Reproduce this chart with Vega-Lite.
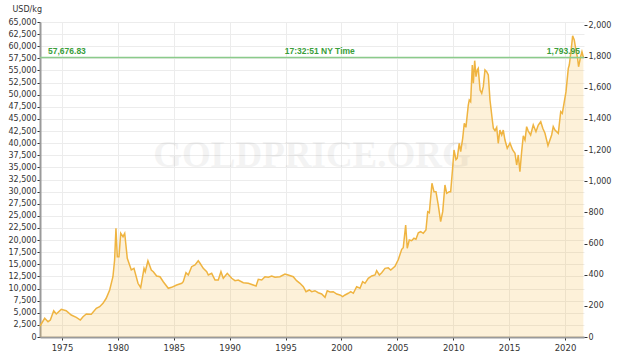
{
  "$schema": "https://vega.github.io/schema/vega-lite/v6.json",
  "width": 544,
  "height": 315,
  "autosize": {"type": "none"},
  "padding": {"left": 40, "top": 22, "right": 40, "bottom": 25},
  "background": "white",
  "config": {
    "view": {"stroke": null},
    "axis": {"labelFont": "DejaVu Sans", "labelFontSize": 8, "labelColor": "#333333", "tickColor": "#333333", "gridColor": "#ececec", "domainColor": "#9a9a9a", "domainWidth": 2, "tickSize": 3}
  },
  "datasets": {
    "gold": [
      {"date": "1973-01-12", "kg": 2270}, {"date": "1973-06-15", "kg": 3860}, {"date": "1973-10-01", "kg": 3160}, {"date": "1973-12-15", "kg": 3500},
      {"date": "1974-04-05", "kg": 5430}, {"date": "1974-06-28", "kg": 4750}, {"date": "1974-12-08", "kg": 5700}, {"date": "1975-05-18", "kg": 5430},
      {"date": "1975-10-30", "kg": 4540}, {"date": "1976-04-12", "kg": 4060}, {"date": "1976-08-22", "kg": 3500}, {"date": "1976-11-18", "kg": 4190},
      {"date": "1977-03-05", "kg": 4750}, {"date": "1977-08-15", "kg": 4680}, {"date": "1978-01-26", "kg": 5920}, {"date": "1978-05-15", "kg": 6250},
      {"date": "1978-09-01", "kg": 6950}, {"date": "1978-12-16", "kg": 7990}, {"date": "1979-04-08", "kg": 9700}, {"date": "1979-07-23", "kg": 12440},
      {"date": "1979-09-16", "kg": 15890}, {"date": "1979-10-30", "kg": 22430}, {"date": "1979-12-13", "kg": 16570}, {"date": "1980-02-06", "kg": 16570},
      {"date": "1980-04-02", "kg": 21400}, {"date": "1980-06-17", "kg": 20700}, {"date": "1980-08-11", "kg": 21400}, {"date": "1980-11-03", "kg": 16240},
      {"date": "1981-03-14", "kg": 13830}, {"date": "1981-06-10", "kg": 14170}, {"date": "1981-10-19", "kg": 11080}, {"date": "1982-01-15", "kg": 10170},
      {"date": "1982-05-04", "kg": 14170}, {"date": "1982-06-13", "kg": 13480}, {"date": "1982-09-09", "kg": 15740}, {"date": "1982-12-28", "kg": 13830},
      {"date": "1983-03-04", "kg": 13480}, {"date": "1983-06-21", "kg": 12590}, {"date": "1983-10-08", "kg": 12440}, {"date": "1984-01-23", "kg": 11410},
      {"date": "1984-07-05", "kg": 10050}, {"date": "1984-10-22", "kg": 10250}, {"date": "1985-04-05", "kg": 10730}, {"date": "1985-09-17", "kg": 11080},
      {"date": "1985-11-06", "kg": 11410}, {"date": "1986-02-03", "kg": 13270}, {"date": "1986-04-20", "kg": 12790}, {"date": "1986-08-07", "kg": 14510},
      {"date": "1986-11-25", "kg": 14860}, {"date": "1987-03-11", "kg": 15740}, {"date": "1987-05-08", "kg": 15210}, {"date": "1987-08-22", "kg": 14170},
      {"date": "1987-12-13", "kg": 13480}, {"date": "1988-02-03", "kg": 12790}, {"date": "1988-05-23", "kg": 13140}, {"date": "1988-09-09", "kg": 11760},
      {"date": "1988-12-24", "kg": 11760}, {"date": "1989-03-22", "kg": 13480}, {"date": "1989-06-06", "kg": 12110}, {"date": "1989-10-15", "kg": 13140},
      {"date": "1990-03-08", "kg": 12110}, {"date": "1990-06-24", "kg": 11620}, {"date": "1990-10-08", "kg": 11760}, {"date": "1991-03-22", "kg": 11200},
      {"date": "1991-09-02", "kg": 11080}, {"date": "1992-02-10", "kg": 10730}, {"date": "1992-05-12", "kg": 10520}, {"date": "1992-07-24", "kg": 11900},
      {"date": "1992-11-13", "kg": 11760}, {"date": "1993-02-28", "kg": 12440}, {"date": "1993-06-18", "kg": 12320}, {"date": "1993-10-04", "kg": 12590},
      {"date": "1994-01-22", "kg": 12320}, {"date": "1994-07-01", "kg": 12440}, {"date": "1994-12-13", "kg": 13000}, {"date": "1995-03-28", "kg": 12790},
      {"date": "1995-09-09", "kg": 12440}, {"date": "1995-12-28", "kg": 11620}, {"date": "1996-04-16", "kg": 11080}, {"date": "1996-08-04", "kg": 10380},
      {"date": "1996-10-30", "kg": 9350}, {"date": "1997-02-14", "kg": 9700}, {"date": "1997-05-05", "kg": 9350}, {"date": "1997-08-17", "kg": 9550},
      {"date": "1997-12-05", "kg": 9140}, {"date": "1998-03-26", "kg": 8870}, {"date": "1998-07-13", "kg": 8190}, {"date": "1998-09-24", "kg": 9550},
      {"date": "1998-12-25", "kg": 9290}, {"date": "1999-04-09", "kg": 9350}, {"date": "1999-07-31", "kg": 8870}, {"date": "1999-11-14", "kg": 8670},
      {"date": "2000-02-11", "kg": 8320}, {"date": "2000-04-27", "kg": 8670}, {"date": "2000-08-11", "kg": 9020}, {"date": "2000-10-31", "kg": 9350},
      {"date": "2001-01-23", "kg": 9020}, {"date": "2001-05-12", "kg": 10380}, {"date": "2001-08-30", "kg": 10050}, {"date": "2001-11-24", "kg": 11410},
      {"date": "2002-02-09", "kg": 11080}, {"date": "2002-05-26", "kg": 12110}, {"date": "2002-09-16", "kg": 12590}, {"date": "2003-01-02", "kg": 12800},
      {"date": "2003-02-25", "kg": 13680}, {"date": "2003-05-23", "kg": 12790}, {"date": "2003-08-08", "kg": 13270}, {"date": "2003-11-25", "kg": 14170},
      {"date": "2004-03-10", "kg": 14270}, {"date": "2004-05-30", "kg": 13830}, {"date": "2004-10-16", "kg": 14600}, {"date": "2005-02-02", "kg": 16000},
      {"date": "2005-05-24", "kg": 18100}, {"date": "2005-07-13", "kg": 18430}, {"date": "2005-09-30", "kg": 23110}, {"date": "2005-11-20", "kg": 18300},
      {"date": "2006-01-25", "kg": 20020}, {"date": "2006-04-13", "kg": 19870}, {"date": "2006-06-28", "kg": 20370}, {"date": "2006-09-01", "kg": 20160},
      {"date": "2006-11-17", "kg": 21520}, {"date": "2007-02-02", "kg": 21730}, {"date": "2007-04-27", "kg": 21400}, {"date": "2007-07-24", "kg": 22080},
      {"date": "2007-09-20", "kg": 25860}, {"date": "2007-11-11", "kg": 25650}, {"date": "2008-02-06", "kg": 31720}, {"date": "2008-04-12", "kg": 29980},
      {"date": "2008-06-16", "kg": 29980}, {"date": "2008-08-29", "kg": 27240}, {"date": "2008-11-16", "kg": 23790}, {"date": "2009-01-22", "kg": 25860},
      {"date": "2009-04-05", "kg": 31370}, {"date": "2009-06-02", "kg": 29650}, {"date": "2009-08-25", "kg": 29980}, {"date": "2009-10-09", "kg": 29980},
      {"date": "2009-12-12", "kg": 34810}, {"date": "2010-01-26", "kg": 38590}, {"date": "2010-04-01", "kg": 36600}, {"date": "2010-05-12", "kg": 36880},
      {"date": "2010-07-16", "kg": 39970}, {"date": "2010-09-02", "kg": 38240}, {"date": "2010-11-06", "kg": 41000}, {"date": "2010-12-28", "kg": 44100},
      {"date": "2011-02-20", "kg": 43270}, {"date": "2011-05-08", "kg": 47870}, {"date": "2011-06-09", "kg": 48910}, {"date": "2011-07-24", "kg": 48550},
      {"date": "2011-09-16", "kg": 56130}, {"date": "2011-10-20", "kg": 52350}, {"date": "2011-12-03", "kg": 57020}, {"date": "2012-01-15", "kg": 53720},
      {"date": "2012-02-25", "kg": 55100}, {"date": "2012-03-28", "kg": 55440}, {"date": "2012-05-27", "kg": 50970}, {"date": "2012-07-20", "kg": 50290},
      {"date": "2012-09-09", "kg": 51650}, {"date": "2012-11-03", "kg": 55100}, {"date": "2012-12-28", "kg": 54750}, {"date": "2013-02-20", "kg": 54060},
      {"date": "2013-04-16", "kg": 48910}, {"date": "2013-07-01", "kg": 44780}, {"date": "2013-08-04", "kg": 43070}, {"date": "2013-09-27", "kg": 42570},
      {"date": "2013-11-21", "kg": 43270}, {"date": "2014-01-11", "kg": 39970}, {"date": "2014-03-06", "kg": 42700}, {"date": "2014-05-04", "kg": 41680},
      {"date": "2014-06-24", "kg": 42710}, {"date": "2014-08-18", "kg": 40650}, {"date": "2014-11-01", "kg": 38940}, {"date": "2015-01-29", "kg": 40000},
      {"date": "2015-04-27", "kg": 38590}, {"date": "2015-07-12", "kg": 37900}, {"date": "2015-09-05", "kg": 35490}, {"date": "2015-10-27", "kg": 37560},
      {"date": "2015-12-20", "kg": 34110}, {"date": "2016-02-15", "kg": 38240}, {"date": "2016-04-08", "kg": 41500}, {"date": "2016-06-03", "kg": 40650},
      {"date": "2016-07-27", "kg": 43410}, {"date": "2016-09-16", "kg": 42500}, {"date": "2016-12-04", "kg": 41680}, {"date": "2017-02-28", "kg": 43750},
      {"date": "2017-05-27", "kg": 42370}, {"date": "2017-08-11", "kg": 43750}, {"date": "2017-10-30", "kg": 44430}, {"date": "2018-01-05", "kg": 43070},
      {"date": "2018-03-18", "kg": 42030}, {"date": "2018-06-24", "kg": 39500}, {"date": "2018-10-22", "kg": 41680}, {"date": "2018-12-13", "kg": 43410},
      {"date": "2019-02-07", "kg": 42700}, {"date": "2019-05-27", "kg": 42030}, {"date": "2019-08-14", "kg": 46490}, {"date": "2019-10-05", "kg": 46150},
      {"date": "2019-11-30", "kg": 48220}, {"date": "2020-02-03", "kg": 50620}, {"date": "2020-04-18", "kg": 55440}, {"date": "2020-05-20", "kg": 56130},
      {"date": "2020-07-14", "kg": 58870}, {"date": "2020-09-07", "kg": 62170}, {"date": "2020-10-30", "kg": 61290}, {"date": "2020-12-23", "kg": 59220},
      {"date": "2021-02-15", "kg": 57510}, {"date": "2021-03-20", "kg": 55770}, {"date": "2021-05-25", "kg": 57830}, {"date": "2021-07-08", "kg": 58870},
      {"date": "2021-08-24", "kg": 57680}
    ]
  },
  "layer": [
    {
      "layer": [
        {
          "data": {"name": "gold"},
          "mark": {"type": "area", "color": "#f3b73f", "opacity": 0.2},
          "encoding": {
            "x": {
              "field": "date", "type": "temporal", "title": null,
              "scale": {"type": "utc", "domain": [{"year": 1973, "month": 1, "date": 12, "utc": true}, {"year": 2021, "month": 9, "date": 13, "utc": true}]},
              "axis": {"format": "%Y", "formatType": "utc", "values": [{"year": 1975, "utc": true}, {"year": 1980, "utc": true}, {"year": 1985, "utc": true}, {"year": 1990, "utc": true}, {"year": 1995, "utc": true}, {"year": 2000, "utc": true}, {"year": 2005, "utc": true}, {"year": 2010, "utc": true}, {"year": 2015, "utc": true}, {"year": 2020, "utc": true}], "grid": true, "labelPadding": 3, "labelFontSize": 8.5}
            },
            "y": {
              "field": "kg", "type": "quantitative", "title": "USD/kg",
              "scale": {"domain": [0, 65000], "nice": false},
              "axis": {"titleAngle": 0, "titleAlign": "left", "titleBaseline": "alphabetic", "titleX": -28, "titleY": -11, "titleFont": "DejaVu Sans", "titleFontSize": 8, "titleFontWeight": "normal", "titleColor": "#333333", "values": [0, 2500, 5000, 7500, 10000, 12500, 15000, 17500, 20000, 22500, 25000, 27500, 30000, 32500, 35000, 37500, 40000, 42500, 45000, 47500, 50000, 52500, 55000, 57500, 60000, 62500, 65000], "format": ",d", "grid": true, "labelPadding": 1}
            }
          }
        },
        {
          "data": {"values": [{"label": "GOLDPRICE.ORG"}]},
          "mark": {"type": "text", "font": "Liberation Serif", "fontWeight": "bold", "fontSize": 37, "color": "#000000", "opacity": 0.045, "align": "center", "baseline": "middle"},
          "encoding": {
            "text": {"field": "label"},
            "y": {
              "datum": 37350, "type": "quantitative", "title": "USD/kg",
              "scale": {"domain": [0, 65000], "nice": false},
              "axis": {"titleAngle": 0, "titleAlign": "left", "titleBaseline": "alphabetic", "titleX": -28, "titleY": -11, "titleFont": "DejaVu Sans", "titleFontSize": 8, "titleFontWeight": "normal", "titleColor": "#333333", "values": [0, 2500, 5000, 7500, 10000, 12500, 15000, 17500, 20000, 22500, 25000, 27500, 30000, 32500, 35000, 37500, 40000, 42500, 45000, 47500, 50000, 52500, 55000, 57500, 60000, 62500, 65000], "format": ",d", "grid": true, "labelPadding": 1}
            }
          }
        },
        {
          "data": {"name": "gold"},
          "mark": {"type": "line", "color": "#efb441", "strokeWidth": 1.5},
          "encoding": {
            "x": {
              "field": "date", "type": "temporal", "title": null,
              "scale": {"type": "utc", "domain": [{"year": 1973, "month": 1, "date": 12, "utc": true}, {"year": 2021, "month": 9, "date": 13, "utc": true}]},
              "axis": {"format": "%Y", "formatType": "utc", "values": [{"year": 1975, "utc": true}, {"year": 1980, "utc": true}, {"year": 1985, "utc": true}, {"year": 1990, "utc": true}, {"year": 1995, "utc": true}, {"year": 2000, "utc": true}, {"year": 2005, "utc": true}, {"year": 2010, "utc": true}, {"year": 2015, "utc": true}, {"year": 2020, "utc": true}], "grid": true, "labelPadding": 3, "labelFontSize": 8.5}
            },
            "y": {
              "field": "kg", "type": "quantitative", "title": "USD/kg",
              "scale": {"domain": [0, 65000], "nice": false},
              "axis": {"titleAngle": 0, "titleAlign": "left", "titleBaseline": "alphabetic", "titleX": -28, "titleY": -11, "titleFont": "DejaVu Sans", "titleFontSize": 8, "titleFontWeight": "normal", "titleColor": "#333333", "values": [0, 2500, 5000, 7500, 10000, 12500, 15000, 17500, 20000, 22500, 25000, 27500, 30000, 32500, 35000, 37500, 40000, 42500, 45000, 47500, 50000, 52500, 55000, 57500, 60000, 62500, 65000], "format": ",d", "grid": true, "labelPadding": 1}
            }
          }
        },
        {
          "data": {"values": [{"date": "1973-10-01", "kg": 57676.83, "label": "57,676.83"}, {"date": "1998-01-22", "kg": 57676.83, "label": "17:32:51 NY Time"}]},
          "transform": [{"filter": "datum.label == '57,676.83'"}],
          "mark": {"type": "text", "align": "left", "baseline": "bottom", "dy": -1, "font": "Liberation Sans", "fontWeight": "bold", "fontSize": 8.5, "color": "#3a9e3a"},
          "encoding": {
            "x": {
              "field": "date", "type": "temporal", "title": null,
              "scale": {"type": "utc", "domain": [{"year": 1973, "month": 1, "date": 12, "utc": true}, {"year": 2021, "month": 9, "date": 13, "utc": true}]},
              "axis": {"format": "%Y", "formatType": "utc", "values": [{"year": 1975, "utc": true}, {"year": 1980, "utc": true}, {"year": 1985, "utc": true}, {"year": 1990, "utc": true}, {"year": 1995, "utc": true}, {"year": 2000, "utc": true}, {"year": 2005, "utc": true}, {"year": 2010, "utc": true}, {"year": 2015, "utc": true}, {"year": 2020, "utc": true}], "grid": true, "labelPadding": 3, "labelFontSize": 8.5}
            },
            "y": {
              "field": "kg", "type": "quantitative", "title": "USD/kg",
              "scale": {"domain": [0, 65000], "nice": false},
              "axis": {"titleAngle": 0, "titleAlign": "left", "titleBaseline": "alphabetic", "titleX": -28, "titleY": -11, "titleFont": "DejaVu Sans", "titleFontSize": 8, "titleFontWeight": "normal", "titleColor": "#333333", "values": [0, 2500, 5000, 7500, 10000, 12500, 15000, 17500, 20000, 22500, 25000, 27500, 30000, 32500, 35000, 37500, 40000, 42500, 45000, 47500, 50000, 52500, 55000, 57500, 60000, 62500, 65000], "format": ",d", "grid": true, "labelPadding": 1}
            },
            "text": {"field": "label"}
          }
        },
        {
          "data": {"values": [{"date": "1973-10-01", "kg": 57676.83, "label": "57,676.83"}, {"date": "1998-01-22", "kg": 57676.83, "label": "17:32:51 NY Time"}]},
          "transform": [{"filter": "datum.label != '57,676.83'"}],
          "mark": {"type": "text", "align": "center", "baseline": "bottom", "dy": -1, "font": "Liberation Sans", "fontWeight": "bold", "fontSize": 8.5, "color": "#3a9e3a"},
          "encoding": {
            "x": {
              "field": "date", "type": "temporal", "title": null,
              "scale": {"type": "utc", "domain": [{"year": 1973, "month": 1, "date": 12, "utc": true}, {"year": 2021, "month": 9, "date": 13, "utc": true}]},
              "axis": {"format": "%Y", "formatType": "utc", "values": [{"year": 1975, "utc": true}, {"year": 1980, "utc": true}, {"year": 1985, "utc": true}, {"year": 1990, "utc": true}, {"year": 1995, "utc": true}, {"year": 2000, "utc": true}, {"year": 2005, "utc": true}, {"year": 2010, "utc": true}, {"year": 2015, "utc": true}, {"year": 2020, "utc": true}], "grid": true, "labelPadding": 3, "labelFontSize": 8.5}
            },
            "y": {
              "field": "kg", "type": "quantitative", "title": "USD/kg",
              "scale": {"domain": [0, 65000], "nice": false},
              "axis": {"titleAngle": 0, "titleAlign": "left", "titleBaseline": "alphabetic", "titleX": -28, "titleY": -11, "titleFont": "DejaVu Sans", "titleFontSize": 8, "titleFontWeight": "normal", "titleColor": "#333333", "values": [0, 2500, 5000, 7500, 10000, 12500, 15000, 17500, 20000, 22500, 25000, 27500, 30000, 32500, 35000, 37500, 40000, 42500, 45000, 47500, 50000, 52500, 55000, 57500, 60000, 62500, 65000], "format": ",d", "grid": true, "labelPadding": 1}
            },
            "text": {"field": "label"}
          }
        }
      ]
    },
    {
      "layer": [
        {
          "data": {"values": [{"oz": 1793.95}]},
          "mark": {"type": "rule", "color": "#8bcb8b", "strokeWidth": 1.6},
          "encoding": {
            "y": {
              "field": "oz", "type": "quantitative", "title": null,
              "scale": {"domain": [0, 2021.73], "nice": false},
              "axis": {"orient": "right", "values": [0, 200, 400, 600, 800, 1000, 1200, 1400, 1600, 1800, 2000], "format": ",d", "grid": false, "domain": false, "labelPadding": 1}
            }
          }
        },
        {
          "data": {"values": [{"date": "2021-05-04", "oz": 1793.95, "label": "1,793.95"}]},
          "mark": {"type": "text", "align": "right", "baseline": "bottom", "dy": -1, "font": "Liberation Sans", "fontWeight": "bold", "fontSize": 8.5, "color": "#3a9e3a"},
          "encoding": {
            "x": {
              "field": "date", "type": "temporal", "title": null,
              "scale": {"type": "utc", "domain": [{"year": 1973, "month": 1, "date": 12, "utc": true}, {"year": 2021, "month": 9, "date": 13, "utc": true}]},
              "axis": {"format": "%Y", "formatType": "utc", "values": [{"year": 1975, "utc": true}, {"year": 1980, "utc": true}, {"year": 1985, "utc": true}, {"year": 1990, "utc": true}, {"year": 1995, "utc": true}, {"year": 2000, "utc": true}, {"year": 2005, "utc": true}, {"year": 2010, "utc": true}, {"year": 2015, "utc": true}, {"year": 2020, "utc": true}], "grid": true, "labelPadding": 3, "labelFontSize": 8.5}
            },
            "y": {
              "field": "oz", "type": "quantitative", "title": null,
              "scale": {"domain": [0, 2021.73], "nice": false},
              "axis": {"orient": "right", "values": [0, 200, 400, 600, 800, 1000, 1200, 1400, 1600, 1800, 2000], "format": ",d", "grid": false, "domain": false, "labelPadding": 1}
            },
            "text": {"field": "label"}
          }
        }
      ]
    }
  ],
  "resolve": {"scale": {"y": "independent"}}
}
